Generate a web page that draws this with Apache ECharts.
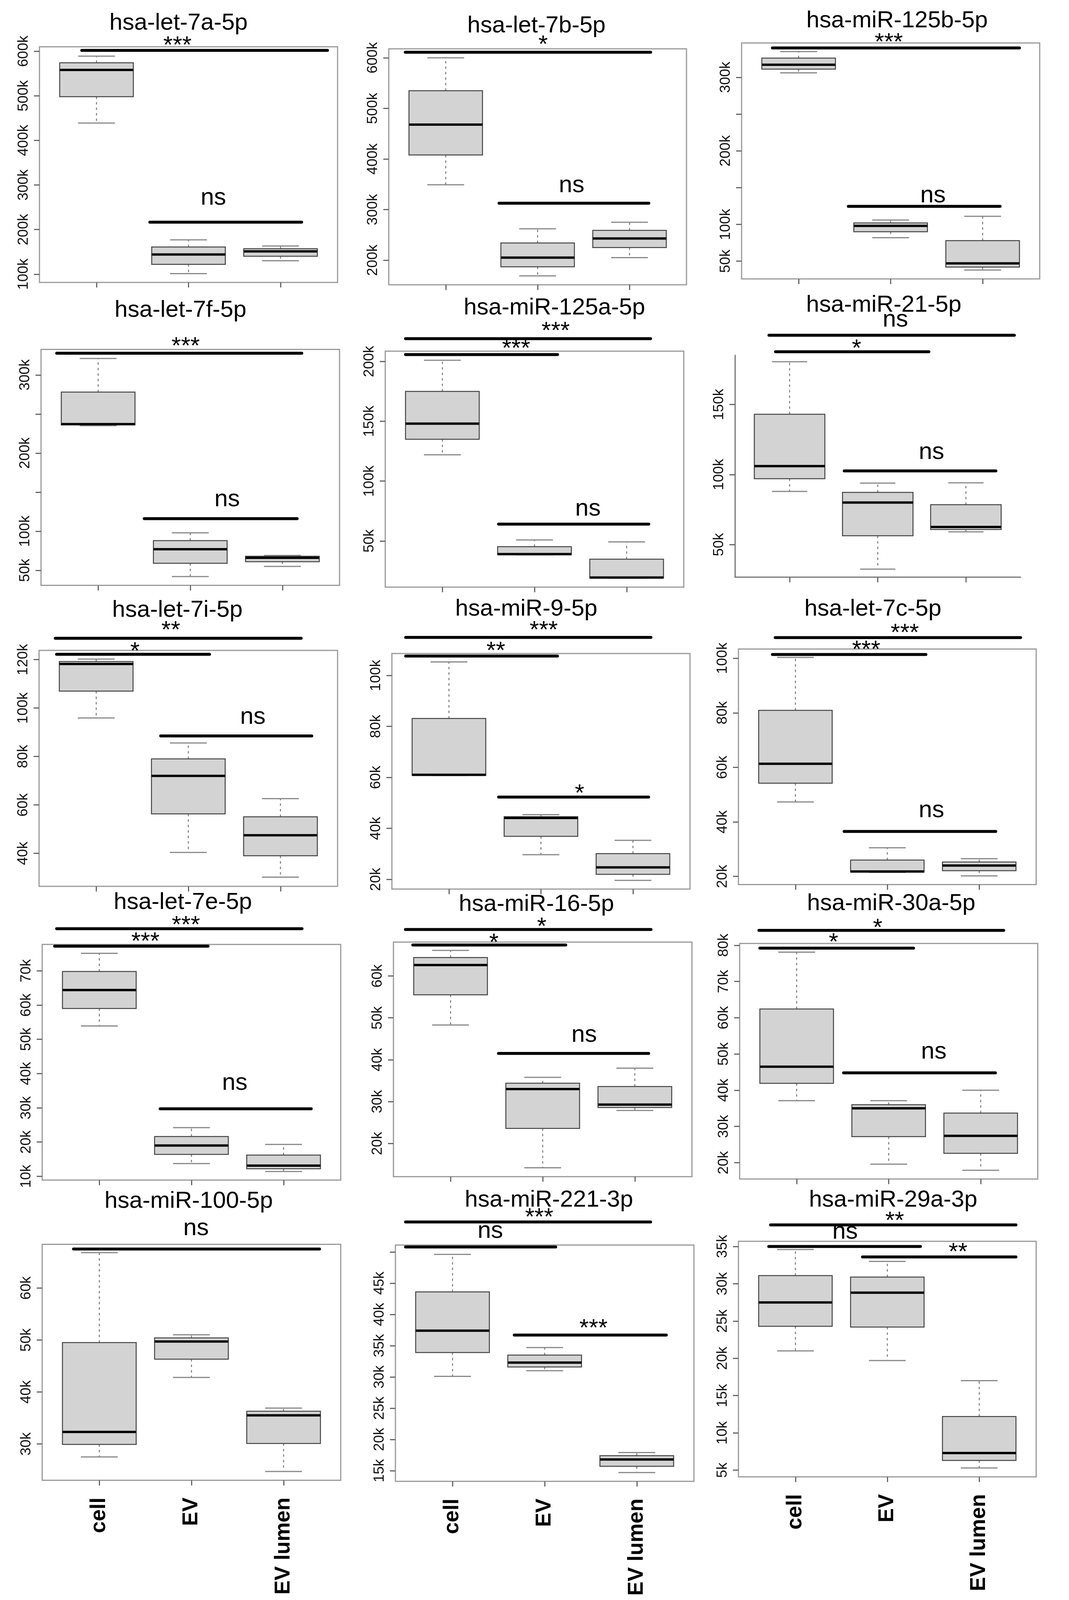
<!DOCTYPE html>
<html><head><meta charset="utf-8">
<script src="https://cdn.jsdelivr.net/npm/echarts@6.0.0/dist/echarts.min.js"></script>
<style>html,body{margin:0;padding:0;background:#fff;overflow:hidden}#c{width:2736px;height:4652px}</style>
</head><body><div id="c"></div>
<script>
// ---------------- data ----------------
const groups = ['cell', 'EV', 'EV lumen'];
const titles = ['hsa-let-7a-5p','hsa-let-7b-5p','hsa-miR-125b-5p',
  'hsa-let-7f-5p','hsa-miR-125a-5p','hsa-miR-21-5p',
  'hsa-let-7i-5p','hsa-miR-9-5p','hsa-let-7c-5p',
  'hsa-let-7e-5p','hsa-miR-16-5p','hsa-miR-30a-5p',
  'hsa-miR-100-5p','hsa-miR-221-3p','hsa-miR-29a-3p'];
// five-number summaries [min, Q1, median, Q3, max], in thousands
const cellStats = [
  [439,498,558,574,589],[349,408,468,535,600],[306,311,317,326,335],
  [235,236,237,278,321],[122,135,148,175,201],[88,97,106,143,180.5],
  [95.9,107,118.2,119.2,120.2],[60.8,60.8,61,83.1,105.3],[47.3,54.2,61.3,80.9,100.3],
  [53.9,59,64.4,69.8,75.1],[48.3,55.5,62.6,64.4,66.1],[37.1,41.9,46.5,62.4,78.1],
  [27.5,29.9,32.3,49.5,66.8],[30.1,33.9,37.4,43.6,49.6],[21,24.3,27.5,31.1,34.6]];
const evStats = [
  [101,122,144,161,177],[169,187,205,234,262],[82,90,98,102,106],
  [42,59,77,88,98],[38.3,38.5,39,45.2,50.8],[32.5,56.3,80,87.3,93.9],
  [40.4,56.3,72,79,85.6],[29.7,36.9,44.1,44.6,45.4],[21.5,21.6,21.8,26,30.5],
  [13.7,16.4,19,21.6,24.2],[14.2,23.6,33,34.4,35.8],[19.6,27.2,35,36,37.1],
  [42.8,46.3,49.7,50.4,51],[31,31.6,32.3,33.5,34.7],[19.7,24.2,28.8,30.9,33]];
const lumenStats = [
  [130,140,151,157,163],[205,225,243,259,275],[38,42,47,78,111],
  [55,61,66,68,69],[19,19,19.4,34.7,49.2],[59.1,60.8,62.6,78.5,94.1],
  [30.2,39,47.5,55.1,62.6],[19.6,22,24.7,30.1,35.3],[20.2,22.1,24,25.3,26.5],
  [11.4,12.2,13.1,16.2,19.3],[27.9,28.6,29.3,33.6,38],[17.9,22.6,27.4,33.7,40],
  [24.7,30.1,35.5,36.3,36.9],[14.7,15.7,16.8,17.4,17.9],[5.3,6.3,7.3,12.2,17]];
const yRanges = [[81.5,610],[151.4,617.7],[25.9,346.6],[30.7,332.6],[11.4,208.6],[26.8,185.1],
  [26.4,123.8],[16.2,108.6],[17,103.4],[8.9,77.7],[12.1,68.1],[15.5,80.5],[23,68.4],[13.3,51.1],[4.1,35.7]];
const yTicks = [[100,200,300,400,500,600],[200,300,400,500,600],[50,100,150,200,250,300],
  [50,100,150,200,250,300],[50,100,150,200],[50,100,150],
  [40,60,80,100,120],[20,40,60,80,100],[20,40,60,80,100],
  [10,20,30,40,50,60,70],[20,30,40,50,60],[20,30,40,50,60,70,80],
  [30,40,50,60],[15,20,25,30,35,40,45,50],[5,10,15,20,25,30,35]];
const yLabels = [[100,200,300,400,500,600],[200,300,400,500,600],[50,100,200,300],
  [50,100,200,300],[50,100,150,200],[50,100,150],
  [40,60,80,100,120],[20,40,60,80,100],[20,40,60,80,100],
  [10,20,30,40,50,60,70],[20,30,40,50,60],[20,30,40,50,60,70,80],
  [30,40,50,60],[15,20,25,30,35,40,45],[5,10,15,20,25,30,35]];
// significance bars: [from, to, level, labelX, labelY, text]
const sigBars = [
  [[0.84,3.51,602,1.88,621.6,'***'],[1.58,3.23,216.6,2.27,263,'ns']],
  [[0.56,3.23,611,2.06,634,'*'],[1.58,3.21,312.6,2.37,341,'ns']],
  [[0.715,3.40,339.8,1.98,353,'***'],[1.54,3.19,124.6,2.46,134.4,'ns']],
  [[0.55,3.21,327.7,1.95,342,'***'],[1.5,3.16,116.1,2.4,136.3,'ns']],
  [[0.6,3.26,219,2.23,228.7,'***'],[0.6,2.25,205.7,1.80,214.2,'***'],[1.61,3.24,64,2.58,73.9,'ns']],
  [[0.766,3.55,199.4,2.20,207.8,'ns'],[0.84,2.58,187.6,1.76,192.7,'*'],[1.62,3.34,102.6,2.61,113.4,'ns']],
  [[0.556,3.225,128.8,1.81,133.8,'**'],[0.57,2.23,122.2,1.42,125,'*'],[1.70,3.34,88.5,2.70,94.8,'ns']],
  [[0.53,3.195,114.9,2.03,119.3,'***'],[0.53,2.18,107.6,1.51,111.2,'**'],[1.54,3.17,52.3,2.42,55.2,'*']],
  [[0.78,3.45,107.6,2.19,110.8,'***'],[0.75,2.42,101.4,1.77,104.6,'***'],[1.53,3.18,36.5,2.48,42.9,'ns']],
  [[0.537,3.2,82.3,1.94,84.5,'***'],[0.515,2.18,77.2,1.5,79.7,'***'],[1.66,3.3,29.7,2.47,36.2,'ns']],
  [[0.51,3.175,71.1,1.99,72.7,'*'],[0.59,2.25,67.4,1.47,68.9,'*'],[1.52,3.15,41.5,2.45,45.1,'ns']],
  [[0.59,3.25,84.1,1.88,85.9,'*'],[0.6,2.27,79.2,1.40,81.9,'*'],[1.51,3.16,44.8,2.49,49.6,'ns']],
  [[0.72,3.39,67.5,2.05,70.8,'ns']],
  [[0.49,3.15,54.8,1.94,56.2,'***'],[0.49,2.12,50.8,1.41,52.8,'ns'],[1.67,3.32,36.7,2.53,38.4,'***']],
  [[0.73,3.40,37.9,2.08,39,'**'],[0.71,2.36,35,1.54,36.5,'ns'],[1.73,3.40,33.6,2.77,34.8,'**']]];

// ---------------- layout (pixels in the 2736 x 4652 design) ----------------
const gridBoxes = [[101,136,763,685],[995,142,762,686],[1898,125,763,686],
  [105,1016,764,686],[986,1021,764,686],[1881,1033,731,645],
  [100,1891,764,686],[1003,1900,763,685],[1890,1887,762,685],
  [108,2746,764,685],[1007,2739,764,682],[1893,2743,763,685],
  [108,3618,764,686],[1012,3620,764,687],[1890,3609,762,685]];
const titlePos = [[457,67],[1373,76],[2296,61],[462,902],[1419,895],[2262,887],
  [454,1774],[1347,1771],[2234,1771],[468,2624],[1373,2630],[2281,2627],
  [483,3493],[1405,3490],[2286,3490]];

// fit the design into the visible viewport
const VW = window.innerWidth || 2736, VH = window.innerHeight || 4652;
const SX = VW / 2736, SY = Math.min(VH, 4652) / 4652, SF = Math.sqrt(SX * SY);
const el = document.getElementById('c');
el.style.width = Math.round(2736 * SX) + 'px';
el.style.height = Math.round(4652 * SY) + 'px';

const FONT = '"Liberation Sans", Arial, Helvetica, sans-serif';

function renderBox(params, api) {
  const x = api.value(0);
  const c = k => api.coord([x, api.value(k)]);
  const pMin = c(1), pQ1 = c(2), pMed = c(3), pQ3 = c(4), pMax = c(5);
  const hw = api.size([0.4, 0])[0];
  const cx = pMin[0];
  const sw = hw * 0.5;
  const wh = { stroke: '#777', lineWidth: 2.5, lineDash: [6, 8] };
  const st = { stroke: '#888', lineWidth: 3 };
  return { type: 'group', children: [
    { type: 'line', shape: { x1: cx, y1: pQ3[1], x2: cx, y2: pMax[1] }, style: wh },
    { type: 'line', shape: { x1: cx, y1: pQ1[1], x2: cx, y2: pMin[1] }, style: wh },
    { type: 'line', shape: { x1: cx - sw, y1: pMax[1], x2: cx + sw, y2: pMax[1] }, style: st },
    { type: 'line', shape: { x1: cx - sw, y1: pMin[1], x2: cx + sw, y2: pMin[1] }, style: st },
    { type: 'rect', shape: { x: cx - hw, y: pQ3[1], width: 2 * hw, height: pQ1[1] - pQ3[1] },
      style: { fill: '#d3d3d3', stroke: '#444', lineWidth: 2.5 } },
    { type: 'line', shape: { x1: cx - hw, y1: pMed[1], x2: cx + hw, y2: pMed[1] },
      style: { stroke: '#000', lineWidth: 6 } }
  ]};
}

function makeSigRenderer(list) {
  return function (params, api) {
    const txt = list[params.dataIndex][5];
    const a = api.coord([api.value(0), api.value(2)]);
    const b = api.coord([api.value(1), api.value(2)]);
    const l = api.coord([api.value(3), api.value(4)]);
    const star = txt[0] === '*';
    const fs = 66 * SF;
    return { type: 'group', children: [
      { type: 'line', shape: { x1: a[0], y1: a[1], x2: b[0], y2: b[1] },
        style: { stroke: '#000', lineWidth: 7.5, lineCap: 'round' } },
      { type: 'text', style: { text: txt, x: l[0], y: l[1] + (star ? 0.19 : -0.14) * fs,
        font: fs.toFixed(1) + 'px ' + FONT, fill: '#000', textAlign: 'center', textVerticalAlign: 'middle' } }
    ]};
  };
}

const grid = [], xAxis = [], yAxis = [], series = [], graphic = [];
titles.forEach((t, i) => {
  const [l, tp, w, h] = gridBoxes[i];
  const boxed = i !== 5;
  const bottomRow = i >= 12;
  grid.push({ left: l * SX, top: tp * SY, width: w * SX, height: h * SY, show: boxed,
    borderColor: '#999', borderWidth: 3, containLabel: false });
  xAxis.push({ type: 'value', gridIndex: i, min: 0.38, max: 3.62,
    splitLine: { show: false },
    axisLine: { show: !boxed, onZero: false, lineStyle: { color: '#777', width: 3 } },
    axisTick: { show: true, customValues: [1, 2, 3], length: 15 * SY, lineStyle: { color: '#666', width: 3 } },
    axisLabel: { show: bottomRow, customValues: [1, 2, 3],
      formatter: v => groups[Math.round(v) - 1], rotate: 90,
      fontSize: 62 * SY, fontWeight: 'bold', fontFamily: FONT, color: '#000', margin: 50 * SY } });
  yAxis.push({ type: 'value', gridIndex: i, min: yRanges[i][0], max: yRanges[i][1],
    splitLine: { show: false },
    axisLine: { show: !boxed, onZero: false, lineStyle: { color: '#777', width: 3 } },
    axisTick: { show: true, customValues: yTicks[i], length: 14 * SX, lineStyle: { color: '#666', width: 3 } },
    axisLabel: { customValues: yLabels[i], formatter: v => v + 'k', rotate: 90,
      fontSize: 42 * SY, fontFamily: FONT, color: '#111', margin: 22 * SX } });
  series.push({ type: 'custom', xAxisIndex: i, yAxisIndex: i, clip: false, silent: true, z: 2,
    data: [[1, ...cellStats[i]], [2, ...evStats[i]], [3, ...lumenStats[i]]],
    encode: { x: 0, y: [1, 2, 3, 4, 5] },
    renderItem: renderBox });
  series.push({ type: 'custom', xAxisIndex: i, yAxisIndex: i, clip: false, silent: true, z: 3,
    data: sigBars[i].map(b => [b[0], b[1], b[2], b[3], b[4]]),
    encode: { x: [0, 1, 3], y: [2, 4] },
    renderItem: makeSigRenderer(sigBars[i]) });
  graphic.push({ type: 'text', x: titlePos[i][0] * SX, y: titlePos[i][1] * SY,
    style: { text: t, font: (64 * SF).toFixed(1) + 'px ' + FONT, fill: '#000',
      textAlign: 'center', textVerticalAlign: 'middle' } });
});

const chart = echarts.init(el, null, { renderer: 'canvas' });
chart.setOption({ backgroundColor: '#fff', animation: false, grid, xAxis, yAxis, series, graphic });
</script>
</body></html>
